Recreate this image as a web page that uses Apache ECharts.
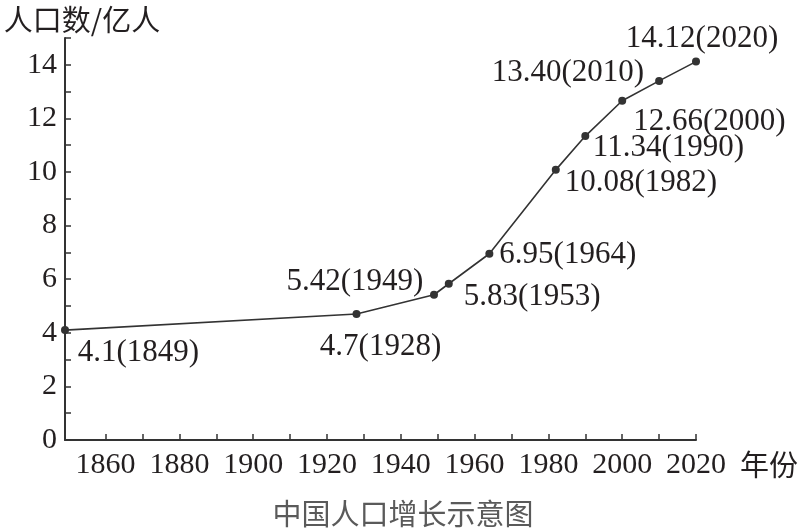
<!DOCTYPE html>
<html>
<head>
<meta charset="utf-8">
<script src="https://cdn.jsdelivr.net/npm/echarts@6/dist/echarts.min.js"></script>
<style>
html,body{margin:0;padding:0;background:#fff;}
#chart{width:806px;height:529px;}
</style>
</head>
<body>
<div id="chart"></div>
<script>
// ---- data ----
const years = [1849, 1928, 1949, 1953, 1964, 1982, 1990, 2000, 2010, 2020];
const population = [4.1, 4.7, 5.42, 5.83, 6.95, 10.08, 11.34, 12.66, 13.40, 14.12];
const pointLabels = ['4.1(1849)', '4.7(1928)', '5.42(1949)', '5.83(1953)', '6.95(1964)',
  '10.08(1982)', '11.34(1990)', '12.66(2000)', '13.40(2010)', '14.12(2020)'];
const xTickYears = [1860, 1870, 1880, 1890, 1900, 1910, 1920, 1930, 1940, 1950, 1960, 1970, 1980, 1990, 2000, 2010, 2020];
const xLabelYears = [1860, 1880, 1900, 1920, 1940, 1960, 1980, 2000, 2020];
const yLabelValues = [0, 2, 4, 6, 8, 10, 12, 14];

// ---- label placement (style, not data) ----
const labelPlacement = [
  { align: 'left', dx: 12.7, dy: 23 },
  { align: 'center', dx: 24, dy: 32.7 },
  { align: 'right', dx: -10.7, dy: -13 },
  { align: 'left', dx: 15, dy: 13 },
  { align: 'left', dx: 10, dy: 1.3 },
  { align: 'left', dx: 9, dy: 13 },
  { align: 'left', dx: 7.5, dy: 12 },
  { align: 'left', dx: 11, dy: 21 },
  { align: 'right', dx: -15, dy: -8 },
  { align: 'center', dx: 6, dy: -22.6 }
];

const INK = '#231f20';
const SERIF = '"Liberation Serif", "DejaVu Serif", serif';
const CJK = '"Noto Sans CJK SC", sans-serif';

const seriesData = years.map((y, i) => ({
  value: [y, population[i]],
  label: {
    show: true,
    position: 'inside',
    align: labelPlacement[i].align,
    verticalAlign: 'middle',
    offset: [labelPlacement[i].dx, labelPlacement[i].dy],
    formatter: pointLabels[i],
    color: INK,
    fontFamily: SERIF,
    fontSize: 31
  }
}));

const chart = echarts.init(document.getElementById('chart'));
chart.setOption({
  animation: false,
  backgroundColor: '#fff',
  title: {
    text: '中国人口增长示意图',
    left: 'center',
    top: 494,
    textStyle: { fontFamily: CJK, fontSize: 29, fontWeight: 'normal', color: '#5a5a5a' }
  },
  grid: { left: 65, right: 110, top: 38, bottom: 89, outerBoundsMode: 'none' },
  xAxis: {
    type: 'value',
    min: 1849,
    max: 2020,
    name: '\n年份',
    nameLocation: 'end',
    nameGap: 44,
    nameTextStyle: { fontFamily: CJK, fontSize: 29, color: INK, lineHeight: 50 },
    axisLine: { show: true, lineStyle: { color: '#333', width: 2 } },
    axisTick: { show: true, inside: true, length: 6, customValues: xTickYears, lineStyle: { color: '#333', width: 1.5 } },
    axisLabel: { customValues: xLabelYears, fontFamily: SERIF, fontSize: 30, color: INK, margin: 10, formatter: v => String(v) },
    splitLine: { show: false }
  },
  yAxis: {
    type: 'value',
    min: 0,
    max: 15,
    interval: 1,
    name: '人口数/亿人',
    nameLocation: 'end',
    nameGap: 18,
    nameTextStyle: { fontFamily: CJK, fontSize: 29, color: INK, align: 'center', verticalAlign: 'middle', padding: [0, 0, 0, 34] },
    axisLine: { show: true, lineStyle: { color: '#333', width: 2 } },
    axisTick: { show: true, inside: true, length: 6, lineStyle: { color: '#333', width: 1.5 } },
    axisLabel: { customValues: yLabelValues, fontFamily: SERIF, fontSize: 30, color: INK, margin: 8 },
    splitLine: { show: false }
  },
  series: [{
    type: 'line',
    data: seriesData,
    symbol: 'circle',
    symbolSize: 8,
    itemStyle: { color: '#333' },
    lineStyle: { color: '#333', width: 1.6 },
    emphasis: { disabled: true }
  }]
});
</script>
</body>
</html>
